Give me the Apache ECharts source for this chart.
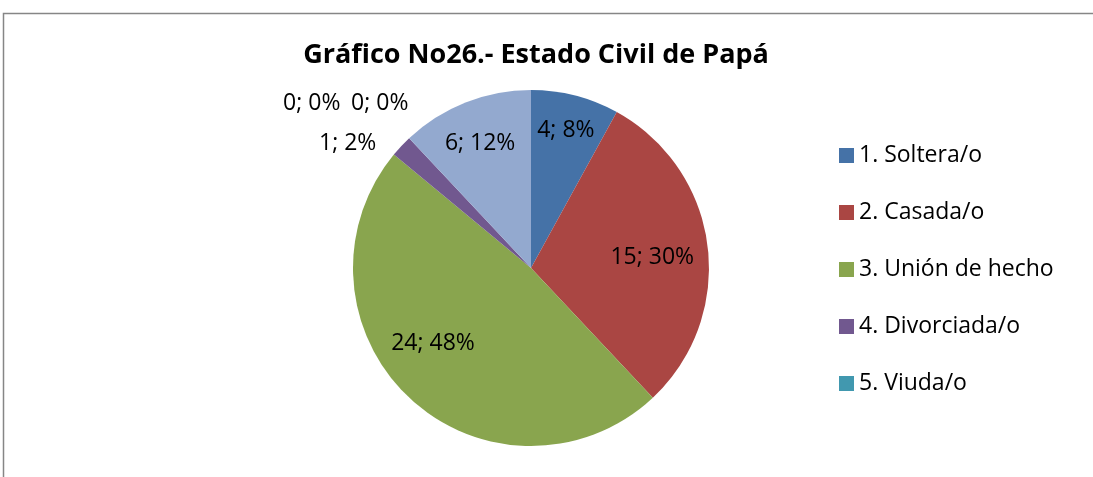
<!DOCTYPE html>
<html>
<head>
<meta charset="utf-8">
<script src="https://cdn.jsdelivr.net/npm/echarts@6/dist/echarts.min.js"></script>
<style>html,body{margin:0;padding:0;background:#fff}#c{width:1093px;height:477px}</style>
</head>
<body>
<div id="c"></div>
<script>
const categories = ['1. Soltera/o', '2. Casada/o', '3. Unión de hecho', '4. Divorciada/o', '5. Viuda/o', '6. Otro', '7. No responde'];
const values = [4, 15, 24, 1, 0, 0, 6];
const legendNames = ['1. Soltera/o', '2. Casada/o', '3. Unión de hecho', '4. Divorciada/o', '5. Viuda/o'];
const titleText = 'Gráfico No26.- Estado Civil de Papá';

const colors = ['#4572A7', '#AA4643', '#89A54E', '#71588F', '#4198AF', '#DB843D', '#93A9CF'];
const insideIdx = [0, 1, 2, 6];
// label nudges (layout only)
const nudges = {0: [12, -48], 1: [30, 1], 2: [-35, 8], 3: [4, 0], 4: [-40, -32], 5: [28, -32], 6: [-17, -39]};
const total = values.reduce((a, b) => a + b, 0);
const FONT = 'Open Sans';

const chart = echarts.init(document.getElementById('c'), null, {renderer: 'canvas'});
chart.setOption({
  animation: false,
  backgroundColor: '#ffffff',
  color: colors,
  title: {
    text: titleText, left: 531, top: 37, textAlign: 'center',
    textStyle: {fontFamily: FONT, fontSize: 27, fontWeight: 'bold', color: '#000'}
  },
  legend: {
    data: legendNames, orient: 'vertical', left: 834, top: 139,
    itemWidth: 15, itemHeight: 15, itemGap: 34, icon: 'rect',
    textStyle: {fontFamily: FONT, fontSize: 23, lineHeight: 23, color: '#000', padding: [0, 0, 0, 0]}
  },
  graphic: [{
    type: 'rect', silent: true, z: -1,
    shape: {x: 3.5, y: 13.5, width: 1300, height: 700},
    style: {fill: null, stroke: '#868686', lineWidth: 1.5}
  }],
  series: [{
    type: 'pie', center: [531, 268], radius: 178, startAngle: 90, clockwise: true,
    avoidLabelOverlap: false, minAngle: 0, stillShowZeroSum: true,
    label: {
      show: true, position: 'outside', color: '#000', fontFamily: FONT, fontSize: 23,
      formatter: p => p.value + '; ' + Math.round(p.value / total * 100) + '%'
    },
    labelLine: {show: false, length: 4, length2: 21},
    emphasis: {disabled: true},
    labelLayout: p => ({dx: nudges[p.dataIndex][0], dy: nudges[p.dataIndex][1]}),
    data: categories.map((n, i) => ({
      name: n, value: values[i],
      label: insideIdx.includes(i) ? {position: 'inside'} : {}
    }))
  }]
});
</script>
</body>
</html>
